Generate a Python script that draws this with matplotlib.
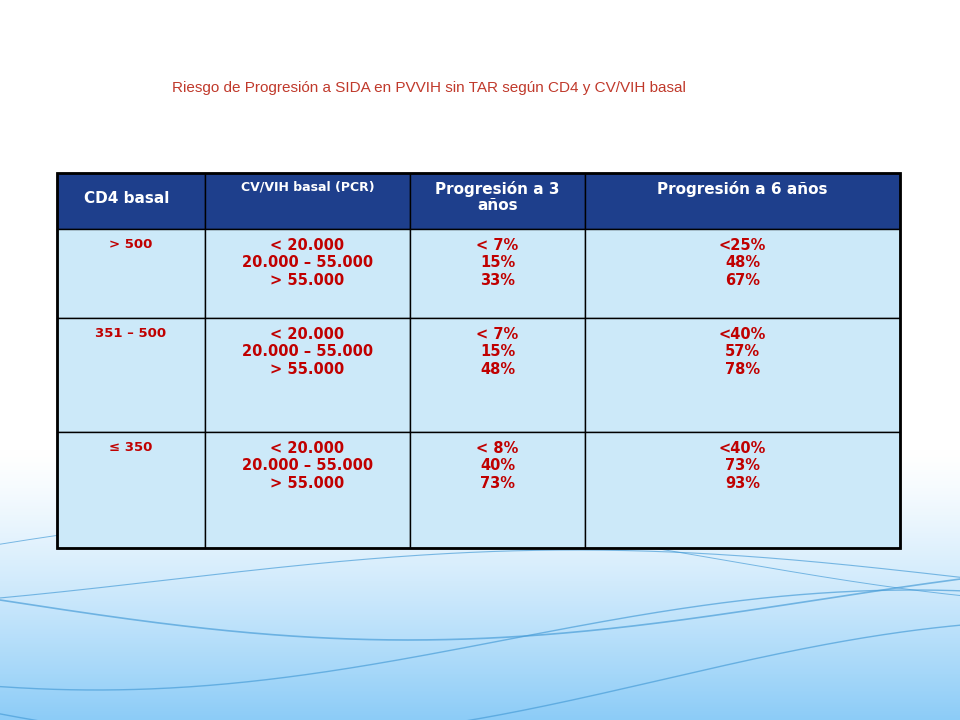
import numpy as np
import matplotlib
matplotlib.use('Agg')
import matplotlib.pyplot as plt
from matplotlib.patches import Rectangle, FancyBboxPatch

title = "Riesgo de Progresión a SIDA en PVVIH sin TAR según CD4 y CV/VIH basal"
headers = ["CD4 basal", "CV/VIH basal (PCR)", "Progresión a 3\naños", "Progresión a 6 años"]
cd4 = ["> 500", "351 – 500", "≤ 350"]
cv = ["< 20.000\n20.000 – 55.000\n> 55.000"] * 3
prog3 = ["< 7%\n15%\n33%", "< 7%\n15%\n48%", "< 8%\n40%\n73%"]
prog6 = ["<25%\n48%\n67%", "<40%\n57%\n78%", "<40%\n73%\n93%"]

col_x = [57, 205, 410, 585, 900]
row_y = [173, 229, 318, 432, 548]

fig = plt.figure(figsize=(9.6, 7.2), dpi=100)
ax = fig.add_axes([0, 0, 1, 1])
ax.set_xlim(0, 960)
ax.set_ylim(720, 0)
ax.axis('off')

# background: white slide, blue gradient panel top (clipped), light blue bottom (full width)
t = np.linspace(0, 1, 720)[:, None] * 720
top = np.clip(1 - (t - 25) / 250, 0, 1)
bot = np.clip((t - 450) / 270, 0, 1) ** 1.3
ax.add_patch(Rectangle((0, 0), 960, 720, color='white', zorder=0))

def grad(w, c):
    return np.dstack([np.repeat(1 - w * (1 - c[0]), 10, 1),
                      np.repeat(1 - w * (1 - c[1]), 10, 1),
                      np.repeat(1 - w * (1 - c[2]), 10, 1),
                      np.repeat(np.ones_like(w), 10, 1)])

im = ax.imshow(grad(top, (0.22, 0.62, 0.95)), extent=[0, 960, 720, 0], aspect='auto', zorder=1)
clip = FancyBboxPatch((25, 25), 912, 400, boxstyle="round,pad=0,rounding_size=12",
                      transform=ax.transData, facecolor='none', edgecolor='none')
ax.add_patch(clip)
im.set_clip_path(clip)
ax.imshow(grad(bot, (0.55, 0.8, 0.97)), extent=[0, 960, 720, 0], aspect='auto', zorder=1,
          alpha=None)
ax.set_xlim(0, 960)
ax.set_ylim(720, 0)
xs = np.linspace(0, 960, 300)
for amp, off, ph, lw in [(40, 600, 0.0, 1.2), (50, 640, 1.2, 1.0), (30, 580, 2.5, 0.8),
                         (60, 680, 0.6, 1.0), (45, 560, 3.5, 0.7)]:
    ax.plot(xs, off + amp * np.sin(xs / 260 + ph), color='#4a9ed8', lw=lw, alpha=0.7, zorder=2)

ax.text(172, 88, title, color='#c0392b', fontsize=11, fontfamily='Liberation Sans',
        va='center', ha='left', zorder=5)

# table
for i in range(4):
    x0, x1 = col_x[i], col_x[i + 1]
    ax.add_patch(Rectangle((x0, row_y[0]), x1 - x0, row_y[1] - row_y[0],
                           facecolor='#1e3f8c', edgecolor='black', lw=1, zorder=3))
    fs = 9 if i == 1 else 11
    ax.text((x0 + x1) / 2 if i else x0 + 70, row_y[0] + 8 if i != 0 else row_y[0] + 18,
            headers[i], color='white', fontsize=fs, fontweight='bold', ha='center',
            va='top', linespacing=1.1, zorder=5)
    for j in range(3):
        y0, y1 = row_y[j + 1], row_y[j + 2]
        ax.add_patch(Rectangle((x0, y0), x1 - x0, y1 - y0,
                               facecolor='#cce9f9', edgecolor='black', lw=1, zorder=3))
        txt = [cd4, cv, prog3, prog6][i][j]
        fs = 9.5 if i == 0 else 10.5
        ax.text((x0 + x1) / 2, y0 + 9, txt, color='#c00000', fontsize=fs,
                fontweight='bold', ha='center', va='top', linespacing=1.2, zorder=5)
ax.add_patch(Rectangle((col_x[0], row_y[0]), col_x[-1] - col_x[0], row_y[-1] - row_y[0],
                       facecolor='none', edgecolor='black', lw=2, zorder=4))

fig.savefig('out.png', dpi=100)
